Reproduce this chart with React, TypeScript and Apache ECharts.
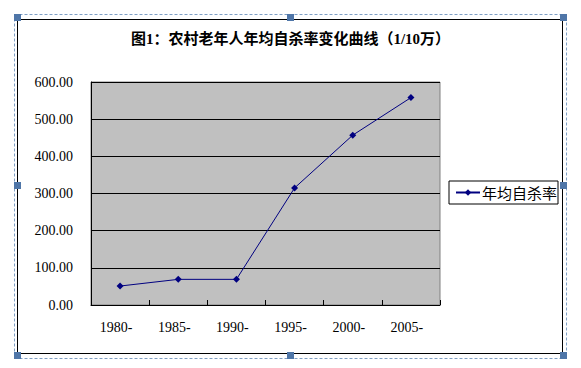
import React, { useEffect, useRef } from "react";
import * as echarts from "echarts";

const categories = ["1980-", "1985-", "1990-", "1995-", "2000-", "2005-"];
const seriesName = "年均自杀率";
const values = [51, 69, 69, 315, 457, 558];
const titleText = "图1：农村老年人年均自杀率变化曲线（1/10万）";

const HANDLE = "#4f76a8";
const hs = 7;
const handlePos = [
  [14, 14], [287, 14], [560, 14],
  [14, 182], [560, 182],
  [14, 352], [287, 352], [560, 352],
];

export default function App() {
  const ref = useRef<HTMLDivElement>(null);
  useEffect(() => {
    if (!ref.current) return;
    const chart = echarts.init(ref.current, null, { renderer: "svg" });
    chart.setOption({
      animation: false,
      backgroundColor: "#ffffff",
      title: {
        text: titleText,
        left: "center",
        top: 26,
        textStyle: {
          fontSize: 15,
          fontWeight: "bold",
          color: "#000",
          fontFamily: "'Liberation Serif', 'Noto Sans CJK SC', serif",
        },
      },
      grid: {
        left: 91,
        top: 82,
        right: 141,
        bottom: 63,
        show: true,
        backgroundColor: "#c0c0c0",
        borderColor: "#808080",
        borderWidth: 1,
      },
      legend: {
        left: 449,
        top: 181,
        orient: "vertical",
        padding: [4, 1, 4, 6],
        itemWidth: 24,
        itemHeight: 8,
        borderColor: "#000",
        borderWidth: 1,
        backgroundColor: "#fff",
        textStyle: {
          fontSize: 15,
          color: "#000",
          padding: [0, 0, 0, -3],
          fontFamily: "'Noto Sans CJK SC', sans-serif",
        },
        data: [seriesName],
      },
      xAxis: {
        type: "category",
        data: categories,
        boundaryGap: true,
        axisLine: { lineStyle: { color: "#000", width: 1 } },
        axisTick: { show: true, inside: true, length: 5, lineStyle: { color: "#000" } },
        axisLabel: {
          margin: 15,
          fontSize: 14,
          color: "#000",
          padding: [0, 8, 0, 0],
          fontFamily: "'Liberation Serif', serif",
        },
        splitLine: { show: false },
      },
      yAxis: {
        type: "value",
        min: 0,
        max: 600,
        interval: 100,
        axisLine: { show: true, lineStyle: { color: "#000", width: 1 } },
        axisTick: { show: false },
        axisLabel: {
          margin: 18,
          fontSize: 14,
          color: "#000",
          fontFamily: "'Liberation Serif', serif",
          formatter: (v: number) => v.toFixed(2),
        },
        splitLine: { show: true, lineStyle: { color: "#000", width: 1 } },
      },
      series: [
        {
          name: seriesName,
          type: "line",
          data: values,
          symbol: "diamond",
          symbolSize: 7,
          lineStyle: { color: "#000080", width: 1 },
          itemStyle: { color: "#000080" },
        },
      ],
      graphic: [
        {
          type: "rect",
          shape: { x: 17.5, y: 19.5, width: 545, height: 334 },
          style: { fill: "none", stroke: "#000", lineWidth: 1 },
          silent: true,
        },
        {
          type: "rect",
          shape: { x: 14.5, y: 14.5, width: 552, height: 344 },
          style: { fill: "none", stroke: "#7f9fc4", lineWidth: 1, lineDash: [3, 2] },
          silent: true,
        },
        ...handlePos.map(([x, y]) => ({
          type: "rect",
          shape: { x, y, width: hs, height: hs },
          style: { fill: HANDLE, stroke: "none" },
          silent: true,
        })),
      ],
    });
    return () => chart.dispose();
  }, []);
  return (
    <div
      ref={ref}
      style={{ position: "fixed", left: 0, top: 0, width: 581, height: 368 }}
    />
  );
}
